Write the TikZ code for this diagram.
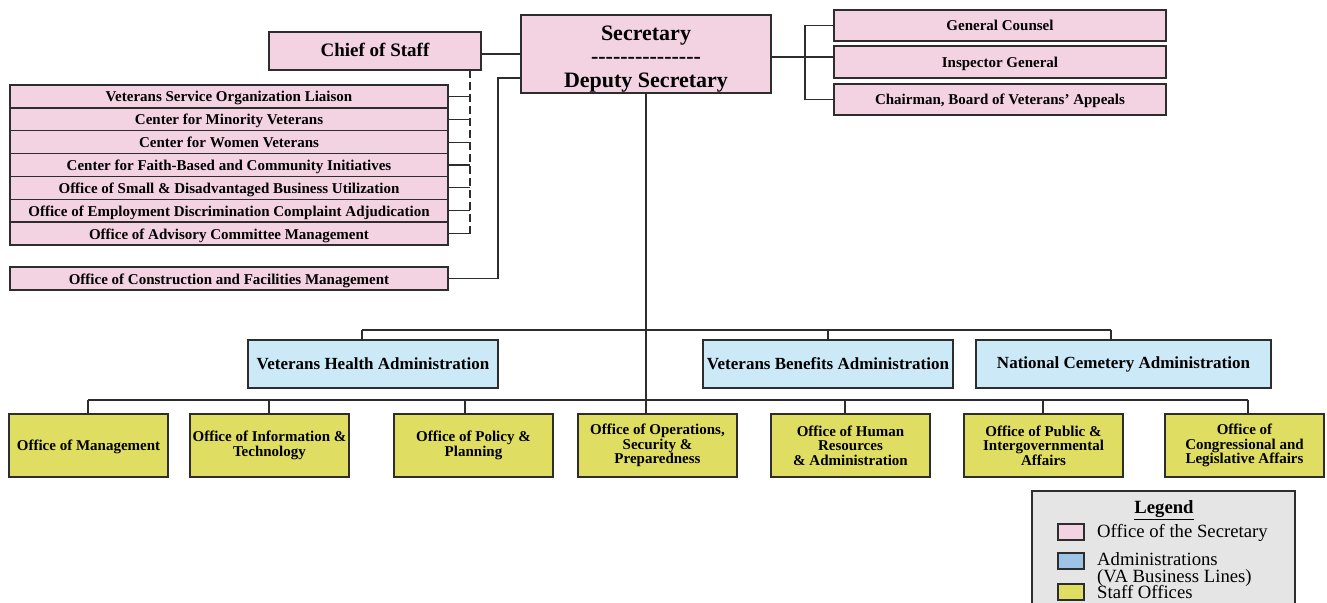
\documentclass[tikz,border=0pt]{standalone}
\usepackage{fontspec}
\setmainfont{Liberation Serif}
\usetikzlibrary{calc}
\definecolor{osfill}{RGB}{243,210,226}
\definecolor{adfill}{RGB}{204,233,248}
\definecolor{sffill}{RGB}{224,222,98}
\definecolor{legblue}{RGB}{157,195,230}
\definecolor{legfill}{RGB}{229,229,229}
\definecolor{edge}{RGB}{45,45,45}
\newcommand\fsz[2]{\fontsize{#1pt}{#2pt}\selectfont}
\newcommand\hyx{\mbox{-}}
\begin{document}
\begin{tikzpicture}[x=1pt,y=-1pt,
  box/.style={draw=edge, line width=1.3pt, inner sep=1pt, outer sep=0pt, align=center, anchor=north west},
  osbox/.style={box, fill=osfill},
  adbox/.style={box, fill=adfill, minimum height=48pt, font=\fsz{17}{19}\bfseries},
  sfbox/.style={box, fill=sffill, minimum width=159pt, minimum height=63pt, font=\fsz{15}{14.5}\bfseries,
    execute at begin node={\rule{0pt}{14pt}}},
  listbox/.style={osbox, minimum width=438pt, minimum height=22.86pt, font=\fsz{15}{17}\bfseries,
    text height=12pt, text depth=1pt},
  rbox/.style={osbox, minimum width=332pt, font=\fsz{15}{17}\bfseries, text height=11.5pt, text depth=1.5pt},
  conn/.style={draw=edge, line width=1.2pt},
  swatch/.style={draw=edge, line width=1.2pt, minimum width=26pt, minimum height=16pt, inner sep=0pt},
  legtext/.style={anchor=west, inner sep=0pt, align=left, font=\fsz{18.7}{17}}
]
\useasboundingbox (0,0) rectangle (1327,602);

% top
\node[osbox, minimum width=250pt, minimum height=78pt, font=\fsz{22}{23.5}\bfseries] (sec) at (521,15)
  {\rule{0pt}{24pt}Secretary\\\hyx\hyx\hyx\hyx\hyx\hyx\hyx\hyx\hyx\hyx\hyx\hyx\hyx\hyx\hyx\\Deputy Secretary};
\node[osbox, minimum width=212pt, minimum height=38pt, font=\fsz{19}{21}\bfseries, text height=14pt, text depth=3pt] (cos) at (269,32) {Chief of Staff};

% left list
\node[listbox] (r1) at (10,85.00) {Veterans Service Organization Liaison};
\node[listbox] (r2) at (10,107.86) {Center for Minority Veterans};
\node[listbox] (r3) at (10,130.71) {Center for Women Veterans};
\node[listbox] (r4) at (10,153.57) {Center for Faith-Based and Community Initiatives};
\node[listbox] (r5) at (10,176.43) {Office of Small \& Disadvantaged Business Utilization};
\node[listbox] (r6) at (10,199.29) {Office of Employment Discrimination Complaint Adjudication};
\node[listbox] (r7) at (10,222.14) {Office of Advisory Committee Management};
\node[listbox, minimum height=23pt] (con) at (10,267) {Office of Construction and Facilities Management};

% right list
\node[rbox, minimum height=31pt] (gc) at (834,10) {General Counsel};
\node[rbox, minimum height=32pt] (ig) at (834,46) {Inspector General};
\node[rbox, minimum height=31pt] (ch) at (834,84) {Chairman, Board of Veterans' Appeals};

% administrations
\node[adbox, minimum width=250pt] (vha) at (248,340) {Veterans Health Administration};
\node[adbox, minimum width=250pt] (vba) at (703,340) {Veterans Benefits Administration};
\node[adbox, minimum width=295pt] (nca) at (976,340) {National Cemetery Administration};

% staff offices
\node[sfbox] (om) at (9,414) {Office of Management};
\node[sfbox] (oit) at (190,414) {Office of Information \&\\Technology};
\node[sfbox] (opp) at (394,414) {Office of Policy \&\\Planning};
\node[sfbox] (oosp) at (578,414) {Office of Operations,\\Security \&\\Preparedness};
\node[sfbox] (ohra) at (771,414) {Office of Human\\Resources\\\& Administration};
\node[sfbox] (opia) at (964,414) {Office of Public \&\\Intergovernmental\\Affairs};
\node[sfbox] (ocla) at (1165,414) {Office of\\Congressional and\\Legislative Affairs};

% coordinates
\coordinate (D) at (470,0);
\coordinate (K) at (498,78);
\coordinate (J) at (805,57);
\coordinate (T1) at (362,330);
\coordinate (T2) at (828,330);
\coordinate (T3) at (1111,330);
\coordinate (B1) at (88,400);
\coordinate (B2) at (269,400);
\coordinate (B3) at (465,400);
\coordinate (B5) at (845,400);
\coordinate (B6) at (1043,400);
\coordinate (B7) at (1248,400);

% connectors
\draw[conn] ([yshift=-3pt]cos.east) -- ([yshift=-3pt]cos.east -| sec.west);
\draw[conn, dash pattern=on 8pt off 4pt] (cos.south -| D) -- (D |- r7.east);
\foreach \r in {r1,r2,r3,r4,r5,r6,r7}{
  \draw[conn] (\r.east) -- (\r.east -| D);
}
\draw[conn] (con.east) -| (K) -- (K -| sec.west);
\draw[conn] (J -| sec.east) -- (J) -- (J -| ig.west);
\draw[conn] (gc.west) -| (J) |- (ch.west);
\draw[conn] (sec.south) -- (sec.south |- oosp.north);
\draw[conn] (T1) -- (T3);
\draw[conn] (T1) -- (T1 |- vha.north);
\draw[conn] (T2) -- (T2 |- vba.north);
\draw[conn] (T3) -- (T3 |- nca.north);
\draw[conn] (B1) -- (B7);
\draw[conn] (B1) -- (B1 |- om.north);
\draw[conn] (B2) -- (B2 |- oit.north);
\draw[conn] (B3) -- (B3 |- opp.north);
\draw[conn] (B5) -- (B5 |- ohra.north);
\draw[conn] (B6) -- (B6 |- opia.north);
\draw[conn] (B7) -- (B7 |- ocla.north);

% legend
\draw[draw=edge, line width=1.3pt, fill=legfill] (1032,491) rectangle (1295,660);
\node[inner sep=0pt, font=\fsz{18.7}{20}\bfseries] (legt) at (1164,510) {\underline{Legend}};
\node[swatch, fill=osfill] (s1) at (1071,532) {};
\node[swatch, fill=legblue] (s2) at (1071,561) {};
\node[swatch, fill=sffill] (s3) at (1071,592) {};
\node[legtext] (l1) at (1097,533) {Office of the Secretary};
\node[legtext] (l2) at (1097,569) {Administrations\\(VA Business Lines)};
\node[legtext] (l3) at (1097,592.5) {Staff Offices};
\end{tikzpicture}
\end{document}
